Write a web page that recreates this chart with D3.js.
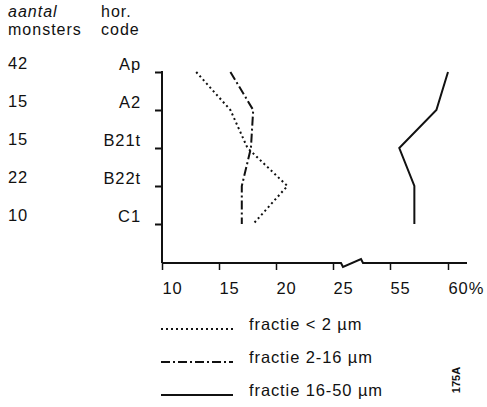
<!DOCTYPE html>
<html>
<head>
<meta charset="utf-8">
<script src="https://cdn.jsdelivr.net/npm/d3@7"></script>
<style>
  body { margin: 0; background: #fff; }
  svg text { font-family: "Liberation Sans", Arial, Helvetica, sans-serif; fill: #111; }
</style>
</head>
<body>
<svg id="chart" width="487" height="407"></svg>
<script>
const horizons = ['Ap', 'A2', 'B21t', 'B22t', 'C1'];
const sampleCounts = [42, 15, 15, 22, 10];
const fractionLt2 = [13, 16, 17.5, 21, 18];
const fraction2to16 = [16, 18, 17.8, 17, 17];
const fraction16to50 = [60, 59, 55.8, 57.1, 57.1];
const xTicks = [10, 15, 20, 25, 55, 60];
const legendLabels = ['fractie < 2 \u00b5m', 'fractie 2-16 \u00b5m', 'fractie 16-50 \u00b5m'];

const width = 487, height = 407;
const axisX = 162, axisY = 263;
const fontSize = '16.5px', spacing = '0.9px';
const svg = d3.select('#chart');

// broken x scale: 10-25 then 55-60
const x = d3.scaleLinear()
  .domain([10, 25, 55, 60])
  .range([axisX, 333, 390, 448]);

const y = d3.scalePoint()
  .domain(horizons)
  .range([72, 224]);

// header
const header = svg.append('g').style('font-size', '16px').style('letter-spacing', '1px');
header.append('text').attr('x', 8).attr('y', 17).style('font-style', 'italic').text('aantal');
header.append('text').attr('x', 8).attr('y', 35).text('monsters');
header.append('text').attr('x', 101).attr('y', 17).text('hor.');
header.append('text').attr('x', 101).attr('y', 35).text('code');

// number of samples per horizon
svg.append('g').selectAll('text')
  .data(horizons)
  .join('text')
  .attr('x', 8)
  .attr('y', d => y(d) - 3)
  .style('font-size', fontSize)
  .style('letter-spacing', spacing)
  .text((d, i) => sampleCounts[i]);

// y axis
const yAxis = d3.axisLeft(y).tickSize(7).tickPadding(14);
const gy = svg.append('g')
  .attr('transform', `translate(${axisX},0)`)
  .call(yAxis);
gy.select('.domain').remove();
gy.selectAll('.tick line').attr('stroke', '#111').attr('stroke-width', 2);
gy.selectAll('.tick text')
  .attr('dy', '-3')
  .style('font-size', fontSize)
  .style('letter-spacing', spacing)
  .attr('fill', '#111');
svg.append('line')
  .attr('x1', axisX).attr('x2', axisX)
  .attr('y1', y('Ap') - 1).attr('y2', axisY)
  .attr('stroke', '#111').attr('stroke-width', 2);

// x axis
const xAxis = d3.axisBottom(x).tickValues(xTicks).tickSize(7).tickPadding(14)
  .tickFormat(d => d === 60 ? d + '%' : d);
const gx = svg.append('g')
  .attr('transform', `translate(0,${axisY})`)
  .call(xAxis);
gx.select('.domain').remove();
gx.selectAll('.tick line').attr('stroke', '#111').attr('stroke-width', 1.5);
gx.selectAll('.tick text')
  .attr('text-anchor', 'start')
  .attr('dy', '0.6em')
  .style('font-size', fontSize)
  .style('letter-spacing', spacing)
  .attr('fill', '#111');

// baseline with break between 25 and 55
const b0 = x(25) + 8, b1 = x(25) + 30;
svg.append('path')
  .attr('d', `M${axisX},${axisY}H${b0}L${b0 + 2},${axisY + 4}L${b1 - 2},${axisY - 4}L${b1},${axisY}H${x(60) + 19}`)
  .attr('fill', 'none')
  .attr('stroke', '#111')
  .attr('stroke-width', 2);

// profile lines
const line = d3.line()
  .x(d => x(d.v))
  .y(d => y(d.h));

const series = [
  { values: fractionLt2, dash: '2,3' },
  { values: fraction2to16, dash: '9,3,2,3' },
  { values: fraction16to50, dash: null }
];

series.forEach(s => {
  svg.append('path')
    .datum(horizons.map((h, i) => ({ h, v: s.values[i] })))
    .attr('d', line)
    .attr('fill', 'none')
    .attr('stroke', '#111')
    .attr('stroke-width', 2)
    .attr('stroke-dasharray', s.dash);
});

// legend
const legend = svg.append('g');
series.forEach((s, i) => {
  const ly = 330 + i * 33;
  legend.append('line')
    .attr('x1', 161).attr('x2', 233)
    .attr('y1', ly - 1).attr('y2', ly - 1)
    .attr('stroke', '#111')
    .attr('stroke-width', 2)
    .attr('stroke-dasharray', s.dash);
  legend.append('text')
    .attr('x', 249).attr('y', ly)
    .style('font-size', fontSize)
    .style('letter-spacing', spacing)
    .text(legendLabels[i]);
});

// figure code
svg.append('text')
  .attr('transform', 'translate(460,380) rotate(-90)')
  .attr('text-anchor', 'middle')
  .style('font-size', '11px')
  .style('font-weight', 'bold')
  .text('175A');
</script>
</body>
</html>
